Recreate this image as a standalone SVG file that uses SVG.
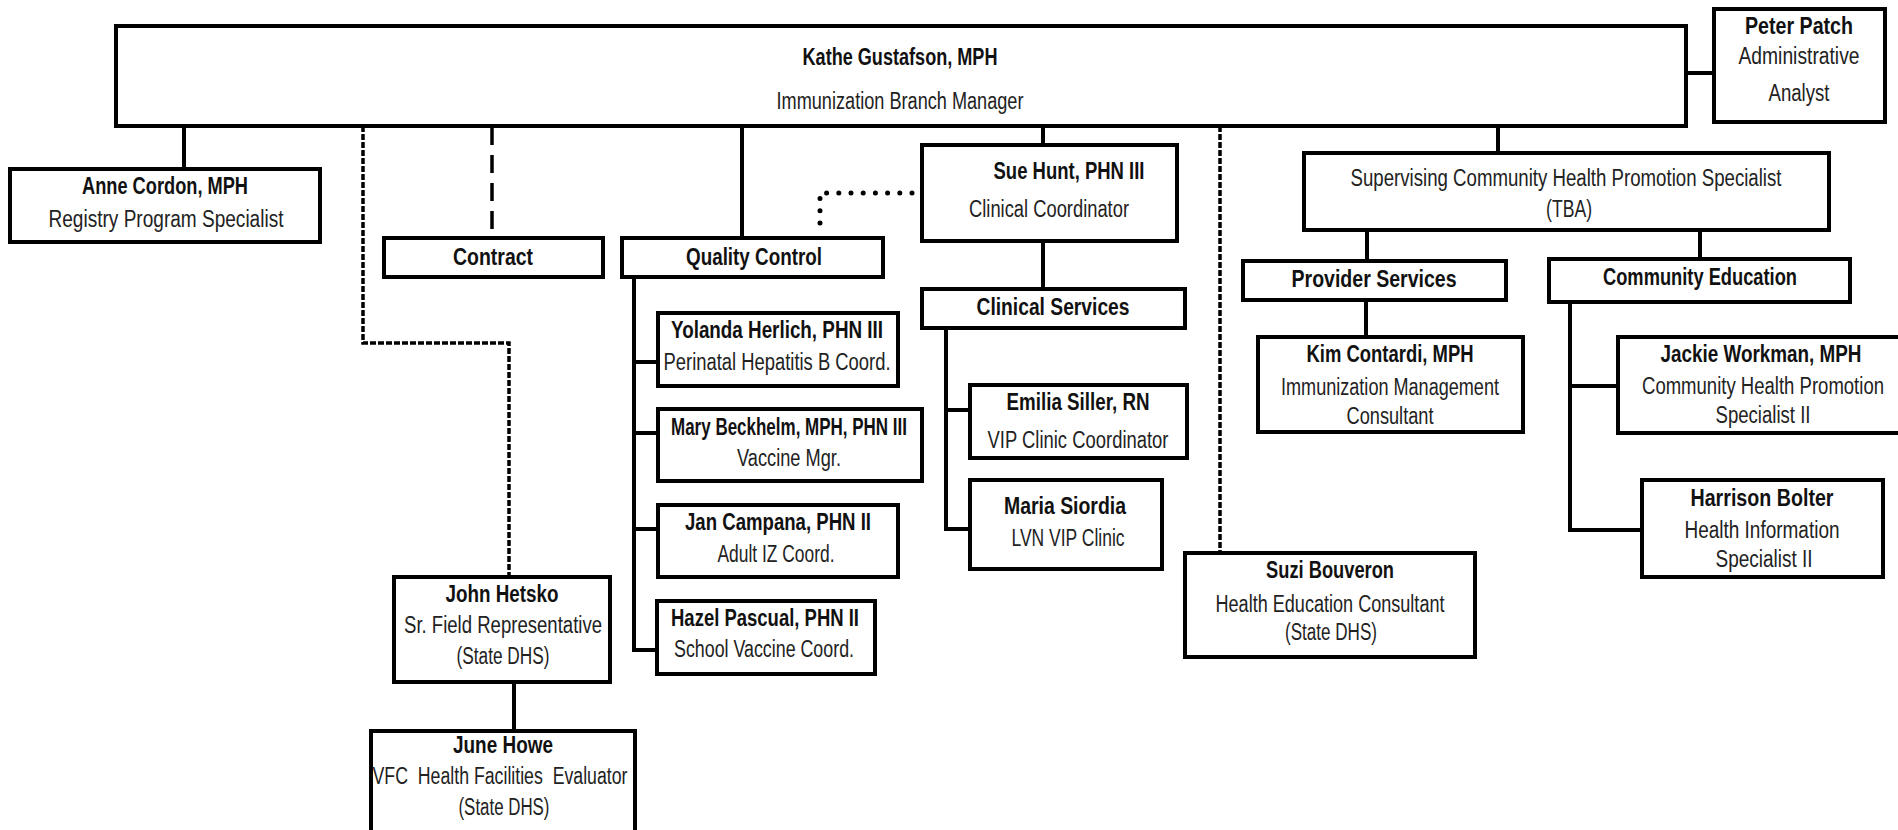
<svg xmlns="http://www.w3.org/2000/svg" width="1898" height="830" viewBox="0 0 1898 830">
  <style>
    .box { fill: #fff; stroke: #000; stroke-width: 4; }
    .ln { fill: none; stroke: #000; stroke-width: 4; }
    .dash { stroke-width: 3.5; stroke-dasharray: 18 10; }
    .fine { stroke-width: 3.5; stroke-dasharray: 6 2; }
    .dot { stroke-width: 5; stroke-linecap: round; stroke-dasharray: 0 12.2; }
    /* condensed look: small face stretched vertically */
    text { font-family: "Liberation Sans", Arial, sans-serif; font-size: 17.5px; text-anchor: middle; fill: #111; }
    .b { font-weight: bold; }
    .r { font-weight: normal; fill: #222; }
  </style>

  <!-- reporting lines -->
  <g id="connectors">
    <path class="ln" d="M184 126 V169"/>
    <path class="ln fine" d="M363 126 V343 H509 V577"/>
    <path class="ln dash" d="M492 127 V229"/>
    <path class="ln" d="M742 126 V238"/>
    <path class="ln" d="M1043 126 V145"/>
    <path class="ln dot" d="M912 193 H820 V234"/>
    <path class="ln" d="M1043 241 V289"/>
    <path class="ln" d="M946 328 V529 H970 M946 410 H970"/>
    <path class="ln" d="M634 277 V650 H657 M634 362 H658 M634 433 H658 M634 529 H658"/>
    <path class="ln fine" d="M1220 126 V553"/>
    <path class="ln" d="M1498 126 V153"/>
    <path class="ln" d="M1686 73 H1714"/>
    <path class="ln" d="M1367 230 V261"/>
    <path class="ln" d="M1700 230 V259"/>
    <path class="ln" d="M1366 300 V337"/>
    <path class="ln" d="M1570 302 V530 H1642 M1570 386 H1618"/>
    <path class="ln" d="M514 682 V731"/>
  </g>

  <g id="kathe">
    <rect class="box" x="116" y="26" width="1570" height="100"/>
    <text class="b" transform="translate(900 65) scale(1 1.38)" textLength="195" lengthAdjust="spacingAndGlyphs">Kathe Gustafson, MPH</text>
    <text class="r" transform="translate(900 109) scale(1 1.38)" textLength="247" lengthAdjust="spacingAndGlyphs">Immunization Branch Manager</text>
  </g>

  <g id="peter">
    <rect class="box" x="1714" y="9" width="171" height="113"/>
    <text class="b" transform="translate(1799 34) scale(1 1.38)" textLength="108" lengthAdjust="spacingAndGlyphs">Peter Patch</text>
    <text class="r" transform="translate(1799 64) scale(1 1.38)" textLength="121" lengthAdjust="spacingAndGlyphs">Administrative</text>
    <text class="r" transform="translate(1799 101) scale(1 1.38)" textLength="61" lengthAdjust="spacingAndGlyphs">Analyst</text>
  </g>

  <g id="anne">
    <rect class="box" x="10" y="169" width="310" height="73"/>
    <text class="b" transform="translate(165 194) scale(1 1.38)" textLength="166" lengthAdjust="spacingAndGlyphs">Anne Cordon, MPH</text>
    <text class="r" transform="translate(166 227) scale(1 1.38)" textLength="235" lengthAdjust="spacingAndGlyphs">Registry Program Specialist</text>
  </g>

  <g id="contract">
    <rect class="box" x="384" y="238" width="219" height="39"/>
    <text class="b" transform="translate(493 265) scale(1 1.38)" textLength="80" lengthAdjust="spacingAndGlyphs">Contract</text>
  </g>

  <g id="quality-control">
    <rect class="box" x="622" y="238" width="261" height="39"/>
    <text class="b" transform="translate(754 265) scale(1 1.38)" textLength="136" lengthAdjust="spacingAndGlyphs">Quality Control</text>
  </g>

  <g id="sue">
    <rect class="box" x="922" y="145" width="255" height="96"/>
    <text class="b" transform="translate(1069 179) scale(1 1.38)" textLength="151" lengthAdjust="spacingAndGlyphs">Sue Hunt, PHN III</text>
    <text class="r" transform="translate(1049 217) scale(1 1.38)" textLength="160" lengthAdjust="spacingAndGlyphs">Clinical Coordinator</text>
  </g>

  <g id="clinical-services">
    <rect class="box" x="922" y="289" width="263" height="39"/>
    <text class="b" transform="translate(1053 315) scale(1 1.38)" textLength="153" lengthAdjust="spacingAndGlyphs">Clinical Services</text>
  </g>

  <g id="yolanda">
    <rect class="box" x="658" y="313" width="240" height="73"/>
    <text class="b" transform="translate(777 338) scale(1 1.38)" textLength="212" lengthAdjust="spacingAndGlyphs">Yolanda Herlich, PHN III</text>
    <text class="r" transform="translate(777 370) scale(1 1.38)" textLength="227" lengthAdjust="spacingAndGlyphs">Perinatal Hepatitis B Coord.</text>
  </g>

  <g id="mary">
    <rect class="box" x="658" y="409" width="264" height="72"/>
    <text class="b" transform="translate(789 435) scale(1 1.38)" textLength="236" lengthAdjust="spacingAndGlyphs">Mary Beckhelm, MPH, PHN III</text>
    <text class="r" transform="translate(789 466) scale(1 1.38)" textLength="104" lengthAdjust="spacingAndGlyphs">Vaccine Mgr.</text>
  </g>

  <g id="jan">
    <rect class="box" x="658" y="505" width="240" height="72"/>
    <text class="b" transform="translate(778 530) scale(1 1.38)" textLength="186" lengthAdjust="spacingAndGlyphs">Jan Campana, PHN II</text>
    <text class="r" transform="translate(776 562) scale(1 1.38)" textLength="117" lengthAdjust="spacingAndGlyphs">Adult IZ Coord.</text>
  </g>

  <g id="hazel">
    <rect class="box" x="657" y="601" width="218" height="73"/>
    <text class="b" transform="translate(765 626) scale(1 1.38)" textLength="188" lengthAdjust="spacingAndGlyphs">Hazel Pascual, PHN II</text>
    <text class="r" transform="translate(764 657) scale(1 1.38)" textLength="180" lengthAdjust="spacingAndGlyphs">School Vaccine Coord.</text>
  </g>

  <g id="emilia">
    <rect class="box" x="970" y="385" width="217" height="73"/>
    <text class="b" transform="translate(1078 410) scale(1 1.38)" textLength="143" lengthAdjust="spacingAndGlyphs">Emilia Siller, RN</text>
    <text class="r" transform="translate(1078 448) scale(1 1.38)" textLength="181" lengthAdjust="spacingAndGlyphs">VIP Clinic Coordinator</text>
  </g>

  <g id="maria">
    <rect class="box" x="970" y="480" width="192" height="89"/>
    <text class="b" transform="translate(1065 514) scale(1 1.38)" textLength="122" lengthAdjust="spacingAndGlyphs">Maria Siordia</text>
    <text class="r" transform="translate(1068 546) scale(1 1.38)" textLength="113" lengthAdjust="spacingAndGlyphs">LVN VIP Clinic</text>
  </g>

  <g id="john">
    <rect class="box" x="394" y="577" width="216" height="105"/>
    <text class="b" transform="translate(502 602) scale(1 1.38)" textLength="113" lengthAdjust="spacingAndGlyphs">John Hetsko</text>
    <text class="r" transform="translate(503 633) scale(1 1.38)" textLength="198" lengthAdjust="spacingAndGlyphs">Sr. Field Representative</text>
    <text class="r" transform="translate(503 664) scale(1 1.38)" textLength="93" lengthAdjust="spacingAndGlyphs">(State DHS)</text>
  </g>

  <g id="june">
    <rect class="box" x="371" y="731" width="264" height="112"/>
    <text class="b" transform="translate(503 753) scale(1 1.38)" textLength="100" lengthAdjust="spacingAndGlyphs">June Howe</text>
    <text class="r" transform="translate(500 784) scale(1 1.38)" textLength="255" lengthAdjust="spacingAndGlyphs" xml:space="preserve">VFC  Health Facilities  Evaluator</text>
    <text class="r" transform="translate(504 815) scale(1 1.38)" textLength="91" lengthAdjust="spacingAndGlyphs">(State DHS)</text>
  </g>

  <g id="suzi">
    <rect class="box" x="1185" y="553" width="290" height="104"/>
    <text class="b" transform="translate(1330 578) scale(1 1.38)" textLength="128" lengthAdjust="spacingAndGlyphs">Suzi Bouveron</text>
    <text class="r" transform="translate(1330 612) scale(1 1.38)" textLength="229" lengthAdjust="spacingAndGlyphs">Health Education Consultant</text>
    <text class="r" transform="translate(1331 640) scale(1 1.38)" textLength="92" lengthAdjust="spacingAndGlyphs">(State DHS)</text>
  </g>

  <g id="supervising">
    <rect class="box" x="1304" y="153" width="525" height="77"/>
    <text class="r" transform="translate(1566 186) scale(1 1.38)" textLength="431" lengthAdjust="spacingAndGlyphs">Supervising Community Health Promotion Specialist</text>
    <text class="r" transform="translate(1569 217) scale(1 1.38)" textLength="46" lengthAdjust="spacingAndGlyphs">(TBA)</text>
  </g>

  <g id="provider-services">
    <rect class="box" x="1243" y="261" width="263" height="39"/>
    <text class="b" transform="translate(1374 287) scale(1 1.38)" textLength="165" lengthAdjust="spacingAndGlyphs">Provider Services</text>
  </g>

  <g id="community-education">
    <rect class="box" x="1549" y="259" width="301" height="43"/>
    <text class="b" transform="translate(1700 285) scale(1 1.38)" textLength="194" lengthAdjust="spacingAndGlyphs">Community Education</text>
  </g>

  <g id="kim">
    <rect class="box" x="1258" y="337" width="265" height="95"/>
    <text class="b" transform="translate(1390 362) scale(1 1.38)" textLength="167" lengthAdjust="spacingAndGlyphs">Kim Contardi, MPH</text>
    <text class="r" transform="translate(1390 395) scale(1 1.38)" textLength="218" lengthAdjust="spacingAndGlyphs">Immunization Management</text>
    <text class="r" transform="translate(1390 424) scale(1 1.38)" textLength="87" lengthAdjust="spacingAndGlyphs">Consultant</text>
  </g>

  <g id="jackie">
    <rect class="box" x="1618" y="337" width="300" height="96"/>
    <text class="b" transform="translate(1761 362) scale(1 1.38)" textLength="201" lengthAdjust="spacingAndGlyphs">Jackie Workman, MPH</text>
    <text class="r" transform="translate(1763 394) scale(1 1.38)" textLength="242" lengthAdjust="spacingAndGlyphs">Community Health Promotion</text>
    <text class="r" transform="translate(1763 423) scale(1 1.38)" textLength="95" lengthAdjust="spacingAndGlyphs">Specialist II</text>
  </g>

  <g id="harrison">
    <rect class="box" x="1642" y="480" width="241" height="97"/>
    <text class="b" transform="translate(1762 506) scale(1 1.38)" textLength="143" lengthAdjust="spacingAndGlyphs">Harrison Bolter</text>
    <text class="r" transform="translate(1762 538) scale(1 1.38)" textLength="155" lengthAdjust="spacingAndGlyphs">Health Information</text>
    <text class="r" transform="translate(1764 567) scale(1 1.38)" textLength="97" lengthAdjust="spacingAndGlyphs">Specialist II</text>
  </g>
</svg>
